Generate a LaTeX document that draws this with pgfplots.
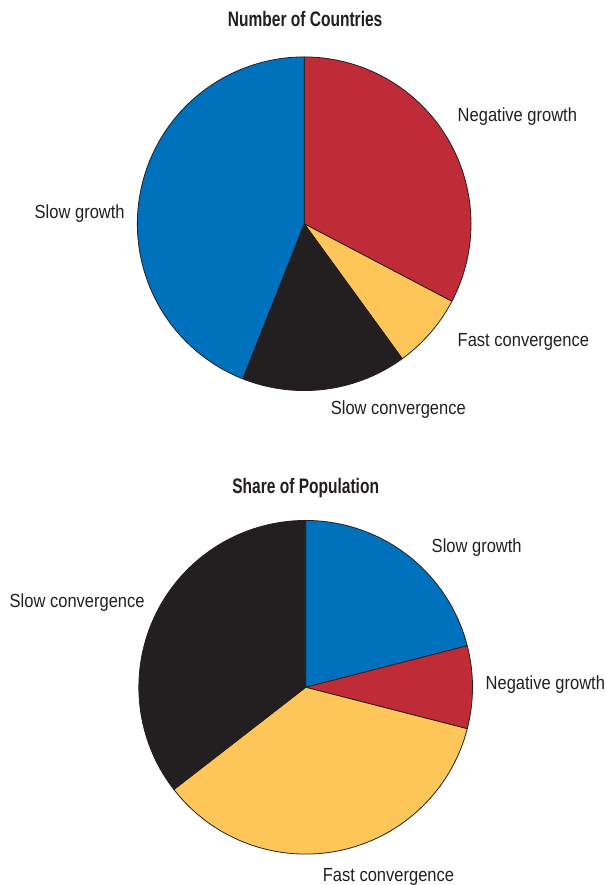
\documentclass[border=0pt]{standalone}
\usepackage{pgfplots}
\pgfplotsset{compat=1.18}
\usepackage{fontspec}
\setmainfont{Liberation Sans}
\newfontfamily\lblfont[FakeStretch=0.87]{Liberation Sans}
\newfontfamily\ttlfont[FakeStretch=0.74]{Liberation Sans}
\definecolor{cblue}{HTML}{0071BC}
\definecolor{cred}{HTML}{BF2B37}
\definecolor{cyel}{HTML}{FEC659}
\definecolor{cblk}{HTML}{231F20}
% #1 cx, #2 cy, #3 radius, #4 cumulative percent before slice, #5 slice percent, #6 colour
\newcommand{\pieslice}[6]{%
  \addplot[fill=#6, draw=cblk, line width=0.8pt, line join=round,
    domain={90-3.6*(#4+#5)}:{90-3.6*(#4)}, samples=120, variable=\t]
    ({#1+#3*cos(\t)},{#2+#3*sin(\t)}) -- (axis cs:#1,#2) -- cycle;
}
\tikzset{lbl/.style={text=cblk, inner sep=0pt, font=\lblfont\fontsize{19}{22}\selectfont},
         ttl/.style={text=cblk, inner sep=0pt, font=\ttlfont\bfseries\fontsize{21}{24}\selectfont}}
\begin{document}
\begin{tikzpicture}
\begin{axis}[hide axis, scale only axis, width=606pt, height=885pt,
  xmin=0, xmax=606, ymin=0, ymax=885, clip=false]
\path (axis cs:0,0) rectangle (axis cs:606,885);
% Number of Countries (percent of countries)
\pieslice{304.5}{661}{167}{0}{32.7}{cred}     % Negative growth
\pieslice{304.5}{661}{167}{32.7}{7.3}{cyel}   % Fast convergence
\pieslice{304.5}{661}{167}{40.0}{16.0}{cblk}  % Slow convergence
\pieslice{304.5}{661}{167}{56.0}{44.0}{cblue} % Slow growth
% Share of Population
\pieslice{306}{197}{167}{0}{21.0}{cblue}      % Slow growth
\pieslice{306}{197}{167}{21.0}{8.0}{cred}     % Negative growth
\pieslice{306}{197}{167}{29.0}{35.5}{cyel}    % Fast convergence
\pieslice{306}{197}{167}{64.5}{35.5}{cblk}    % Slow convergence
% titles
\node[ttl, anchor=base] at (axis cs:305.5,858) {Number of Countries};
\node[ttl, anchor=base] at (axis cs:306,391) {Share of Population};
% labels top
\node[lbl, anchor=base west] at (axis cs:458,763) {Negative growth};
\node[lbl, anchor=base east] at (axis cs:125,666) {Slow growth};
\node[lbl, anchor=base west] at (axis cs:458,538) {Fast convergence};
\node[lbl, anchor=base west] at (axis cs:331,470) {Slow convergence};
% labels bottom
\node[lbl, anchor=base west] at (axis cs:432,332) {Slow growth};
\node[lbl, anchor=base east] at (axis cs:145,277) {Slow convergence};
\node[lbl, anchor=base west] at (axis cs:486,195) {Negative growth};
\node[lbl, anchor=base west] at (axis cs:323,3) {Fast convergence};
\end{axis}
\end{tikzpicture}
\end{document}
